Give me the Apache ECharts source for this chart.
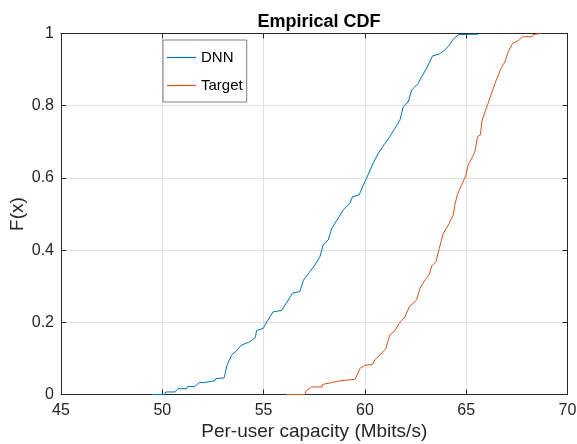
<!DOCTYPE html>
<html>
<head>
<meta charset="utf-8">
<script src="https://cdn.jsdelivr.net/npm/echarts@6/dist/echarts.min.js"></script>
<style>html,body{margin:0;padding:0;background:#fff}#c{width:577px;height:444px}</style>
</head>
<body>
<div id="c"></div>
<script>
// Empirical CDF points: [capacity (Mbits/s), F(x)]
const dnnPoints = [
  [49.47,0],[50.12,0],[50.17,0.007],[50.62,0.007],[50.67,0.012],[50.78,0.016],[51.20,0.016],
  [51.24,0.022],[51.60,0.022],[51.65,0.027],[51.82,0.033],[52.05,0.033],[52.10,0.038],[52.60,0.038],
  [52.64,0.044],[53.05,0.046],[53.20,0.082],[53.42,0.109],[53.66,0.121],[53.91,0.137],[54.32,0.146],
  [54.60,0.158],[54.65,0.177],[54.98,0.183],[55.20,0.205],[55.47,0.229],[55.89,0.233],[56.13,0.254],
  [56.43,0.281],[56.79,0.285],[56.97,0.317],[57.28,0.340],[57.53,0.359],[57.78,0.382],[57.94,0.414],
  [58.19,0.428],[58.36,0.460],[58.68,0.488],[58.93,0.511],[59.26,0.530],[59.39,0.548],[59.72,0.553],
  [59.92,0.580],[60.08,0.599],[60.41,0.641],[60.66,0.668],[60.99,0.696],[61.23,0.714],[61.48,0.737],
  [61.73,0.760],[61.89,0.797],[62.14,0.811],[62.31,0.843],[62.63,0.862],[62.80,0.880],[63.05,0.904],
  [63.34,0.938],[63.67,0.943],[63.95,0.954],[64.16,0.968],[64.36,0.984],[64.62,0.997],[65.60,0.998]
];
const targetPoints = [
  [56.13,0],[57.04,0],[57.10,0.010],[57.37,0.021],[57.88,0.021],[57.91,0.028],[58.36,0.033],
  [58.77,0.038],[59.51,0.042],[59.62,0.054],[59.75,0.072],[60.00,0.081],[60.38,0.083],[60.49,0.096],
  [60.74,0.109],[61.04,0.128],[61.23,0.165],[61.48,0.177],[61.69,0.197],[61.98,0.215],[62.19,0.243],
  [62.55,0.262],[62.72,0.294],[62.91,0.312],[63.18,0.333],[63.30,0.356],[63.51,0.368],[63.67,0.405],
  [63.87,0.446],[64.11,0.469],[64.36,0.497],[64.44,0.525],[64.56,0.553],[64.77,0.580],[64.99,0.608],
  [65.10,0.636],[65.32,0.659],[65.43,0.673],[65.56,0.714],[65.70,0.719],[65.78,0.758],[65.97,0.790],
  [66.20,0.825],[66.42,0.862],[66.70,0.901],[66.91,0.922],[67.08,0.950],[67.30,0.973],[67.57,0.980],
  [67.79,0.991],[68.25,0.991],[68.31,0.997],[68.67,1]
];
const seriesNames = ['DNN','Target'];
const xTicks = [45,50,55,60,65,70];
const yTicks = [0,0.2,0.4,0.6,0.8,1];

const FONT = 'Liberation Sans, Arial, Helvetica, sans-serif';
const AX = '#262626';
const COLORS = ['#0072BD','#D95319'];
const chart = echarts.init(document.getElementById('c'), null, {renderer:'canvas'});
const xMin = xTicks[0], xMax = xTicks[xTicks.length-1];
const xInt = xTicks[1]-xTicks[0];
const yMin = yTicks[0], yMax = yTicks[yTicks.length-1];
const yInt = 0.2;
function baseX(pos, show){
  return {
    type:'value', position:pos, min:xMin, max:xMax, interval:xInt,
    axisLine:{show:true, onZero:false, lineStyle:{color:AX, width:1}},
    axisTick:{show:true, inside:true, length:5, lineStyle:{color:AX}},
    axisLabel:{show:show, color:AX, fontSize:16, fontFamily:FONT, margin:8},
    splitLine:{show:show, lineStyle:{color:'#dfdfdf', width:1}}
  };
}
function baseY(pos, show){
  return {
    type:'value', position:pos, min:yMin, max:yMax, interval:yInt,
    axisLine:{show:true, onZero:false, lineStyle:{color:AX, width:1}},
    axisTick:{show:true, inside:true, length:5, lineStyle:{color:AX}},
    axisLabel:{show:show, color:AX, fontSize:16, fontFamily:FONT, margin:7,
      formatter:v=>String(Math.round(v*10)/10)},
    splitLine:{show:show, lineStyle:{color:'#dfdfdf', width:1}}
  };
}
const xa0 = baseX('bottom', true);
xa0.name = 'Per-user capacity (Mbits/s)';
xa0.nameLocation = 'middle'; xa0.nameGap = 28; xa0.nameMoveOverlap = false;
xa0.nameTextStyle = {color:AX, fontSize:19, fontFamily:FONT};
const ya0 = baseY('left', true);
ya0.name = 'F(x)';
ya0.nameLocation = 'middle'; ya0.nameGap = 34; ya0.nameMoveOverlap = false;
ya0.nameTextStyle = {color:AX, fontSize:19, fontFamily:FONT};

chart.setOption({
  animation:false,
  backgroundColor:'#fff',
  title:{text:'Empirical CDF', left:314, textAlign:'center', top:8,
    textStyle:{fontFamily:FONT, fontSize:18, fontWeight:'bold', color:'#000'}},
  grid:{left:61, right:9.5, top:33.5, bottom:49.5, containLabel:false, outerBoundsMode:'none'},
  legend:{
    orient:'vertical', left:163, top:40, padding:[10,4,9,4], itemGap:13,
    icon:'rect', itemWidth:29, itemHeight:1.2,
    backgroundColor:'#fff', borderColor:'#262626', borderWidth:0.6,
    textStyle:{fontFamily:FONT, fontSize:15, lineHeight:14, color:'#000'},
    data:seriesNames.map((n,i)=>({name:n, itemStyle:{color:COLORS[i], borderWidth:0}}))
  },
  xAxis:[xa0, baseX('top', false)],
  yAxis:[ya0, baseY('right', false)],
  series:[
    {name:seriesNames[0], type:'line', data:dnnPoints, showSymbol:false, symbol:'none',
     lineStyle:{color:COLORS[0], width:1}, itemStyle:{color:COLORS[0]}, z:3},
    {name:seriesNames[1], type:'line', data:targetPoints, showSymbol:false, symbol:'none',
     lineStyle:{color:COLORS[1], width:1}, itemStyle:{color:COLORS[1]}, z:3}
  ]
});
</script>
</body>
</html>
